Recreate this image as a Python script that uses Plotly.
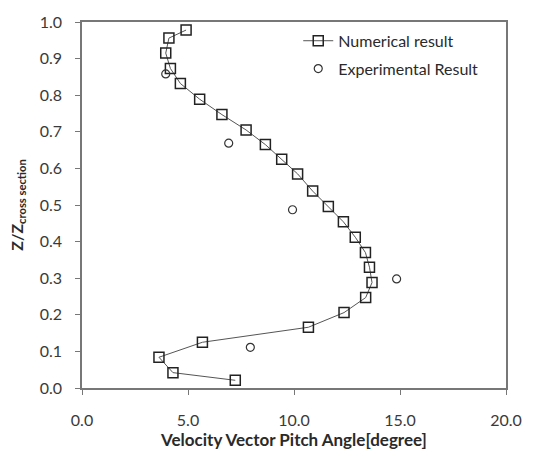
import plotly.graph_objects as go

# Numerical result (squares + line)
num_angle = [4.91, 4.10, 3.95, 4.17, 4.64, 5.55, 6.60, 7.74, 8.65, 9.42, 10.17, 10.88,
             11.62, 12.33, 12.89, 13.37, 13.56, 13.68, 13.38, 12.36, 10.68, 5.68, 3.63, 4.29, 7.23]
num_z = [0.978, 0.956, 0.915, 0.873, 0.832, 0.789, 0.747, 0.705, 0.665, 0.625, 0.585, 0.538,
         0.496, 0.454, 0.412, 0.370, 0.330, 0.288, 0.247, 0.206, 0.166, 0.125, 0.084, 0.042, 0.021]

# Experimental result (circles)
exp_angle = [3.95, 6.92, 9.93, 14.84, 7.94]
exp_z = [0.858, 0.669, 0.487, 0.298, 0.111]

x_ticks = [0, 5, 10, 15, 20]
y_ticks = [0.0, 0.1, 0.2, 0.3, 0.4, 0.5, 0.6, 0.7, 0.8, 0.9, 1.0]

font_family = "Lato, 'Open Sans', sans-serif"
txt = "#2a2a2a"

fig = go.Figure()
fig.add_trace(go.Scatter(
    x=num_angle, y=num_z, mode="lines+markers", name="Numerical result",
    legendgroup="num",
    line=dict(color="#555555", width=1),
    marker=dict(symbol="square-open", size=10, color="#222222", line=dict(width=1.5)),
))
fig.add_trace(go.Scatter(
    x=exp_angle, y=exp_z, mode="markers", name="Experimental Result",
    legendgroup="exp",
    marker=dict(symbol="circle-open", size=8, color="#333333", line=dict(width=1.2)),
))

fig.update_layout(
    width=541, height=456,
    margin=dict(l=82, r=35, t=18, b=68),
    paper_bgcolor="white", plot_bgcolor="white",
    font=dict(family=font_family, size=16, color=txt),
    showlegend=True,
    legend=dict(x=0.51, y=0.995, xanchor="left", yanchor="top",
                bgcolor="rgba(0,0,0,0)", font=dict(size=16, color=txt),
                tracegroupgap=4),
)
fig.update_xaxes(
    range=[0, 20], tickvals=x_ticks, tickformat=".1f",
    showgrid=False, zeroline=False,
    showline=True, linecolor="#777777", linewidth=1.5, mirror=True,
    ticks="outside", ticklen=5, tickcolor="#777777", ticklabelstandoff=12,
    title=dict(text="<b>Velocity Vector Pitch Angle[degree]</b>", font=dict(size=17, color=txt), standoff=2),
    tickfont=dict(size=16, color="#3a3a3a"),
)
fig.update_yaxes(
    range=[0, 1.0], tickvals=y_ticks, tickformat=".1f",
    showgrid=False, zeroline=False,
    showline=True, linecolor="#777777", linewidth=1.5, mirror=True,
    ticks="outside", ticklen=5, tickcolor="#777777", ticklabelstandoff=10,
    title=dict(text="<b>Z/Z<sub>cross section</sub></b>", font=dict(size=16, color=txt), standoff=12),
    tickfont=dict(size=16, color="#3a3a3a"),
)

fig.write_html("out.html")
